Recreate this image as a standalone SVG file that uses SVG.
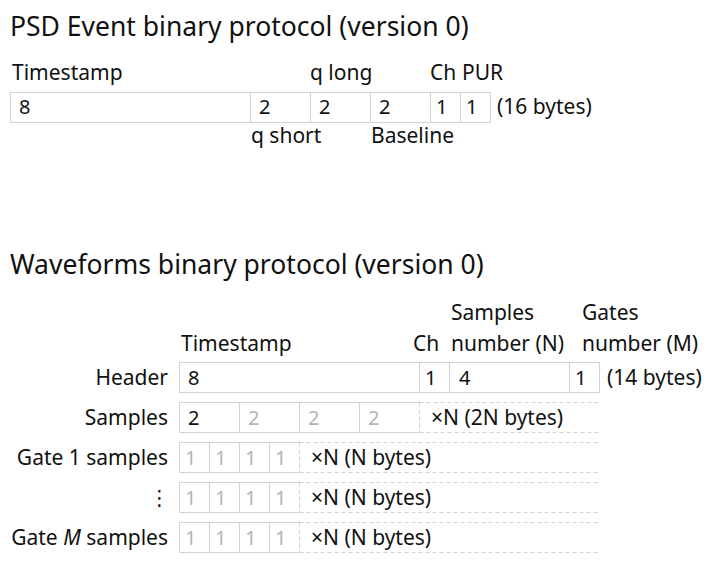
<svg xmlns="http://www.w3.org/2000/svg" width="720" height="562" viewBox="0 0 720 562">
<style>
text{font-family:"Noto Sans","DejaVu Sans",sans-serif;font-size:21px;fill:#111}
.title{font-size:26.5px}
.d{font-size:20px}
.r{text-anchor:end}
.g{fill:#b4b4b4}
.box{fill:none;stroke:#d2d2d2;stroke-width:1}
.dash{fill:none;stroke:#d2d2d2;stroke-width:1;stroke-dasharray:4 3}
</style>
<rect width="720" height="562" fill="#fff"/>

<g id="psd">
<text class="title" x="10" y="36">PSD Event binary protocol (version 0)</text>
<g id="psd-labels">
<text x="12" y="80">Timestamp</text>
<text x="310" y="80">q long</text>
<text x="430" y="80">Ch</text>
<text x="462" y="80">PUR</text>
<text x="251" y="143">q short</text>
<text x="371" y="143">Baseline</text>
</g>
<g id="psd-row">
<rect class="box" x="10.5" y="92.5" width="480" height="30"/>
<path class="box" d="M250.5 92.5V122.5M310.5 92.5V122.5M370.5 92.5V122.5M430.5 92.5V122.5M460.5 92.5V122.5"/>
<text class="d" x="19" y="114">8</text>
<text class="d" x="259" y="114">2</text>
<text class="d" x="319" y="114">2</text>
<text class="d" x="379" y="114">2</text>
<text class="d" x="436" y="114">1</text>
<text class="d" x="466" y="114">1</text>
<text x="497" y="114">(16 bytes)</text>
</g>
</g>

<g id="waveforms">
<text class="title" x="10" y="274">Waveforms binary protocol (version 0)</text>
<g id="wf-labels">
<text x="181" y="351">Timestamp</text>
<text x="413" y="351">Ch</text>
<text x="451" y="320">Samples</text>
<text x="451" y="351">number (N)</text>
<text x="582" y="320">Gates</text>
<text x="582" y="351">number (M)</text>
</g>
<g id="header">
<text class="r" x="168" y="385">Header</text>
<rect class="box" x="179.5" y="362.5" width="420" height="30"/>
<path class="box" d="M419.5 362.5V392.5M449.5 362.5V392.5M569.5 362.5V392.5"/>
<text class="d" x="188" y="385">8</text>
<text class="d" x="425" y="385">1</text>
<text class="d" x="459" y="385">4</text>
<text class="d" x="575" y="385">1</text>
<text x="607" y="385">(14 bytes)</text>
</g>
<g id="samples">
<text class="r" x="168" y="425">Samples</text>
<path class="box" d="M419.5 402.5H179.5V432.5H419.5M239.5 402.5V432.5M299.5 402.5V432.5M359.5 402.5V432.5"/>
<path class="dash" d="M419.5 402.5V432.5M419.5 402.5H599.5M419.5 432.5H599.5"/>
<text class="d" x="188" y="425">2</text>
<text class="d g" x="248" y="425">2</text>
<text class="d g" x="308" y="425">2</text>
<text class="d g" x="368" y="425">2</text>
<text x="431" y="425">×N (2N bytes)</text>
</g>
<g id="gate1">
<text class="r" x="168" y="465">Gate 1 samples</text>
<path class="box" d="M299.5 442.5H179.5V472.5H299.5M209.5 442.5V472.5M239.5 442.5V472.5M269.5 442.5V472.5"/>
<path class="dash" d="M299.5 442.5V472.5M299.5 442.5H599.5M299.5 472.5H599.5"/>
<text class="d g" x="185" y="465">1</text>
<text class="d g" x="215" y="465">1</text>
<text class="d g" x="245" y="465">1</text>
<text class="d g" x="275" y="465">1</text>
<text x="311" y="465">×N (N bytes)</text>
</g>
<g id="gate-dots">
<text class="r" x="170" y="505">⋮</text>
<path class="box" d="M299.5 482.5H179.5V512.5H299.5M209.5 482.5V512.5M239.5 482.5V512.5M269.5 482.5V512.5"/>
<path class="dash" d="M299.5 482.5V512.5M299.5 482.5H599.5M299.5 512.5H599.5"/>
<text class="d g" x="185" y="505">1</text>
<text class="d g" x="215" y="505">1</text>
<text class="d g" x="245" y="505">1</text>
<text class="d g" x="275" y="505">1</text>
<text x="311" y="505">×N (N bytes)</text>
</g>
<g id="gateM">
<text class="r" x="168" y="545">Gate <tspan font-style="italic">M</tspan> samples</text>
<path class="box" d="M299.5 522.5H179.5V552.5H299.5M209.5 522.5V552.5M239.5 522.5V552.5M269.5 522.5V552.5"/>
<path class="dash" d="M299.5 522.5V552.5M299.5 522.5H599.5M299.5 552.5H599.5"/>
<text class="d g" x="185" y="545">1</text>
<text class="d g" x="215" y="545">1</text>
<text class="d g" x="245" y="545">1</text>
<text class="d g" x="275" y="545">1</text>
<text x="311" y="545">×N (N bytes)</text>
</g>
</g>
</svg>
